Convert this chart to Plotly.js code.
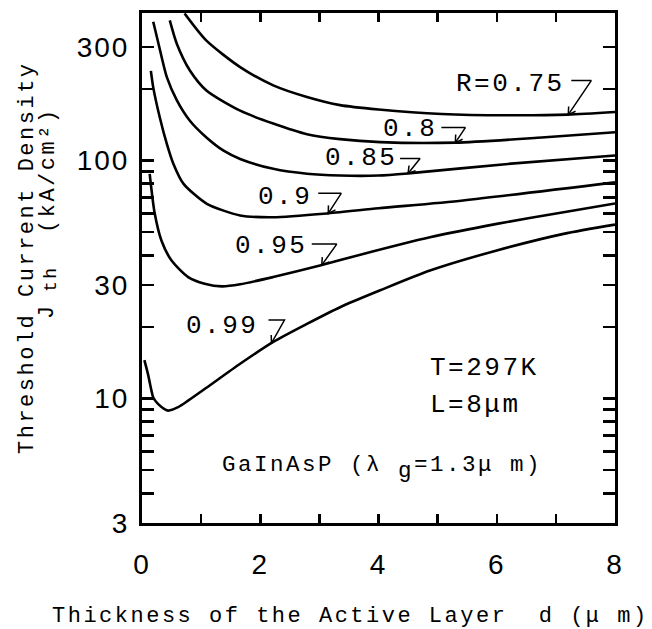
<!DOCTYPE html>
<html>
<head>
<meta charset="utf-8">
<script src="https://cdn.plot.ly/plotly-3.0.1.min.js"></script>
<style>
  html, body { margin: 0; padding: 0; background: #fff; }
  #chart { width: 652px; height: 629px; }
  .annotation-text { letter-spacing: 2.5px; }
  .xtick text, .ytick text { letter-spacing: 2px; }
</style>
</head>
<body>
<div id="chart"></div>
<script>
// Threshold current density J_th (kA/cm^2) against active-layer thickness d (um)
// for several facet reflectivities R.
const reflectivity = [0.75, 0.8, 0.85, 0.9, 0.95, 0.99];
const curveLabels = ['R=0.75', '0.8', '0.85', '0.9', '0.95', '0.99'];

const dR075 = [0.72, 1.09, 1.66, 2.22, 2.79, 3.35, 4.0, 5.07, 6.19, 7.2, 8.0];
const jR075 = [415, 319, 247, 207, 185, 171, 164, 157, 155, 156, 160];

const dR080 = [0.47, 0.59, 0.81, 1.09, 1.66, 2.22, 2.79, 3.35, 4.03, 5.3, 6.76, 8.0];
const jR080 = [388, 309, 239, 197, 162, 143, 129, 123, 119.5, 119, 125, 131.5];

const dR085 = [0.19, 0.28, 0.42, 0.59, 0.81, 1.09, 1.38, 1.66, 2.22, 2.79, 3.35, 4.0, 4.5, 6.19, 8.0];
const jR085 = [383, 309, 224, 179, 147, 125, 110, 101.6, 92.3, 88, 86.5, 86.5, 88.3, 96.8, 105];

const dR090 = [0.15, 0.19, 0.3, 0.42, 0.53, 0.7, 1.09, 1.66, 2.22, 3.15, 4.0, 5.43, 8.0];
const jR090 = [238, 203, 152, 117.5, 97, 80, 66, 58.8, 57.8, 60, 63, 68, 81];

const dR095 = [0.13, 0.215, 0.33, 0.5, 0.78, 1.06, 1.35, 1.66, 2.22, 3.01, 3.74, 4.87, 6.0, 7.13, 8.0];
const jR095 = [88, 60, 46, 38, 32.4, 30.4, 29.6, 30.2, 32.4, 36.2, 40.5, 47.6, 54.2, 60.7, 66];

const dR099 = [0.04, 0.1, 0.16, 0.19, 0.27, 0.44, 0.61, 0.78, 1.09, 1.66, 2.22, 2.79, 3.35, 4.03, 4.87, 6.0, 7.13, 8.0];
const jR099 = [14.5, 12.7, 10.8, 10.1, 9.5, 8.9, 9.2, 9.8, 11.1, 14.0, 17.3, 20.6, 24.2, 28.5, 34.5, 41.9, 49.2, 53.8];

const xTickVals = [0, 2, 4, 6, 8];
const xMinorTicks = [1, 3, 5, 7];
const yTickVals = [3, 10, 30, 100, 300];
const yMinorTicks = [4, 5, 6, 7, 8, 9, 20, 40, 50, 60, 70, 80, 90, 200];

// Where each curve label's leader touches its curve (along d), and the
// pixel offsets of the leader bend, the leader start and the label text.
const leaderAtD = [7.21, 5.3, 4.5, 3.15, 3.04, 2.19];
const leaderBend = [[23, -34], [10, -15], [12, -15], [13, -20], [15, -21], [13, -23]];
const leaderStart = [3, -14, -8, -10, -10, -3];
const labelOffset = [[-1, -31], [-16, -14], [-9, -15], [-14, -16], [-13, -19], [-11, -17]];

const curvesD = [dR075, dR080, dR085, dR090, dR095, dR099];
const curvesJ = [jR075, jR080, jR085, jR090, jR095, jR099];

const W = 652, H = 629;
const M = { l: 142, r: 37, t: 13, b: 106 };
const xRange = [0, 8];
const yRange = [Math.log10(3), 2.62];
const plotW = W - M.l - M.r, plotH = H - M.t - M.b;
const pxPerD = plotW / (xRange[1] - xRange[0]);
const pxPerDec = plotH / (yRange[1] - yRange[0]);

function logJAt(ds, js, d) {
  for (let i = 0; i < ds.length - 1; i++) {
    if (d >= ds[i] && d <= ds[i + 1]) {
      const t = (d - ds[i]) / (ds[i + 1] - ds[i]);
      return Math.log10(js[i]) * (1 - t) + Math.log10(js[i + 1]) * t;
    }
  }
  return Math.log10(js[js.length - 1]);
}

// point offset by (dx, dy) screen pixels from (d, logJ), returned in data units
function offsetPoint(d, logJ, dx, dy) {
  return [d + dx / pxPerD, Math.pow(10, logJ - dy / pxPerDec)];
}

// page pixel position -> paper fraction
const paperX = px => (px - M.l) / plotW;
const paperY = py => (H - M.b - py) / plotH;

const traces = curvesD.map((ds, i) => ({
  x: ds,
  y: curvesJ[i],
  name: 'R=' + reflectivity[i],
  type: 'scatter',
  mode: 'lines',
  line: { color: '#000', width: 2.6, shape: 'spline', smoothing: 0.7 },
  hoverinfo: 'skip',
  showlegend: false
}));

const monoFont = 'Liberation Mono, DejaVu Sans Mono, monospace';
const annotations = [];

curvesD.forEach((ds, i) => {
  const tipD = leaderAtD[i];
  const tipLog = logJAt(ds, curvesJ[i], tipD);
  const [bx, by] = leaderBend[i];
  const start = offsetPoint(tipD, tipLog, leaderStart[i], by);
  const bend = offsetPoint(tipD, tipLog, bx, by);
  const tip = [tipD, Math.pow(10, tipLog)];
  // small open arrowhead at the curve end of the leader
  const len = Math.hypot(bx, by);
  const ux = bx / len, uy = by / len;
  const barbs = [0.55, -0.55].map(a => {
    const c = Math.cos(a), s = Math.sin(a);
    return offsetPoint(tipD, tipLog, 8 * (ux * c - uy * s), 8 * (ux * s + uy * c));
  });
  traces.push({
    x: [start[0], bend[0], tip[0], null, barbs[0][0], tip[0], barbs[1][0]],
    y: [start[1], bend[1], tip[1], null, barbs[0][1], tip[1], barbs[1][1]],
    type: 'scatter', mode: 'lines', connectgaps: false,
    line: { color: '#000', width: 1.5 },
    hoverinfo: 'skip', showlegend: false
  });
  annotations.push({
    x: tipD + labelOffset[i][0] / pxPerD,
    y: tipLog - labelOffset[i][1] / pxPerDec,
    xref: 'x', yref: 'y', xanchor: 'right', yanchor: 'middle',
    text: curveLabels[i], showarrow: false,
    font: { family: monoFont, size: 26, color: '#000' }
  });
});

function note(text, px, py, opts) {
  return Object.assign({
    xref: 'paper', yref: 'paper', x: paperX(px), y: paperY(py),
    xanchor: 'left', yanchor: 'middle', text: text, showarrow: false,
    font: { family: monoFont, size: 22, color: '#000' }
  }, opts || {});
}

const bigFont = { family: monoFont, size: 26, color: '#000' };
const noteFont = { family: monoFont, size: 22.5, color: '#000' };

annotations.push(
  note('T=297K', 428, 368, { font: bigFont }),
  note('L=8μm', 428, 405, { font: bigFont }),
  // material note, with the subscript g set as its own lowered piece
  note('GaInAsP (λ', 220, 465, { font: noteFont }),
  note('g', 396, 471, { font: noteFont }),
  note('=1.3μ\u00A0m)', 412, 465, { font: noteFont }),
  // x-axis title
  note('Thickness of the Active Layer\u00A0\u00A0d (μ\u00A0m)', 350, 616, { xanchor: 'center' }),
  // y-axis title, two rotated lines
  note('Threshold Current Density', 27, 258, { xanchor: 'center', textangle: -90 }),
  note('J', 48, 311, { xanchor: 'center', textangle: -90 }),
  note('th', 51, 279, { xanchor: 'center', textangle: -90,
                        font: { family: monoFont, size: 18, color: '#000' } }),
  note('(kA/cm²)', 48, 170, { xanchor: 'center', textangle: -90 })
);

const axisCommon = {
  showline: true, linewidth: 3, linecolor: '#000', mirror: 'ticks',
  ticks: 'inside', tickwidth: 2.5, tickcolor: '#000',
  showgrid: false, zeroline: false, fixedrange: true,
  tickfont: { family: 'Liberation Sans, Arial, sans-serif', size: 28, color: '#000' }
};

const layout = {
  width: W, height: H, autosize: false,
  margin: M,
  paper_bgcolor: '#fff', plot_bgcolor: '#fff',
  showlegend: false,
  xaxis: Object.assign({}, axisCommon, {
    range: xRange, tickmode: 'array', tickvals: xTickVals,
    ticklen: 9, ticklabelstandoff: 14,
    minor: { tickmode: 'array', tickvals: xMinorTicks, ticks: 'inside', ticklen: 9,
             tickwidth: 2.5, tickcolor: '#000', showgrid: false }
  }),
  yaxis: Object.assign({}, axisCommon, {
    type: 'log', range: yRange, tickmode: 'array', tickvals: yTickVals,
    ticklen: 12, ticklabelstandoff: 4,
    minor: { tickmode: 'array', tickvals: yMinorTicks, ticks: 'inside', ticklen: 12,
             tickwidth: 2.5, tickcolor: '#000', showgrid: false }
  }),
  annotations: annotations
};

Plotly.newPlot('chart', traces, layout, { staticPlot: true, displayModeBar: false });
</script>
</body>
</html>
